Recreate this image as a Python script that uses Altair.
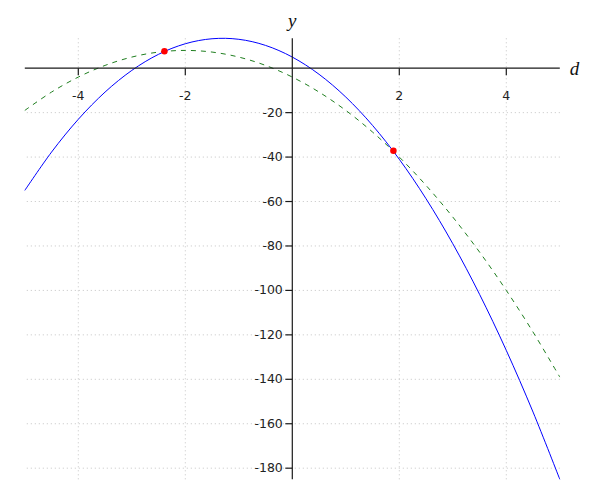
import altair as alt
import pandas as pd

xs = [-5, -4.5, -4, -3.5, -3, -2.5, -2, -1.5, -1, -0.5, 0,
      0.5, 1, 1.5, 2, 2.5, 3, 3.5, 4, 4.5, 5]
blue_y = [-55, -37.75, -23, -10.75, -1, 6.25, 11, 13.25, 13, 10.25, 5,
          -2.75, -13, -25.75, -41, -58.75, -79, -101.75, -127, -154.75, -185]
green_y = [-19, -10.75, -4, 1.25, 5, 7.25, 8, 7.25, 5, 1.25, -4,
           -10.75, -19, -28.75, -40, -52.75, -67, -82.75, -100, -118.75, -139]

# intersection points
pt_x = [-2.39, 1.89]
pt_y = [7.6, -37.2]

x_ticks = [-4, -2, 2, 4]
y_ticks = [-20, -40, -60, -80, -100, -120, -140, -160, -180]

x_min, x_max = -5, 5
y_min, y_max = -185, 13.45

blue_df = pd.DataFrame({"x": xs, "y": blue_y})
green_df = pd.DataFrame({"x": xs, "y": green_y})
pts_df = pd.DataFrame({"x": pt_x, "y": pt_y})
xt_df = pd.DataFrame({"x": x_ticks, "y": [0] * len(x_ticks), "lab": [str(v) for v in x_ticks]})
yt_df = pd.DataFrame({"y": y_ticks, "x": [0] * len(y_ticks), "lab": [str(v) for v in y_ticks]})
zero_df = pd.DataFrame({"x": [0], "y": [0]})
dlab_df = pd.DataFrame({"x": [x_max], "y": [0], "t": ["d"]})
ylab_df = pd.DataFrame({"x": [0], "y": [y_max], "t": ["y"]})

xs_scale = alt.Scale(domain=[x_min, x_max], nice=False, zero=False)
ys_scale = alt.Scale(domain=[y_min, y_max], nice=False, zero=False)

X = alt.X("x:Q", scale=xs_scale, axis=None)
Y = alt.Y("y:Q", scale=ys_scale, axis=None)

grid_col = "#c4c4c4"
axis_col = "#1a1a1a"
lab_font = "DejaVu Sans"

vgrid = alt.Chart(xt_df).mark_rule(color=grid_col, strokeDash=[1, 3], strokeWidth=1).encode(x=X)
hgrid = alt.Chart(yt_df).mark_rule(color=grid_col, strokeDash=[1, 3], strokeWidth=1).encode(y=Y)

xaxis = alt.Chart(zero_df).mark_rule(color=axis_col, strokeWidth=1.2).encode(y=Y)
yaxis = alt.Chart(zero_df).mark_rule(color=axis_col, strokeWidth=1.2).encode(x=X)

xtick_marks = alt.Chart(xt_df).mark_rule(color=axis_col, strokeWidth=1.2, y2Offset=7).encode(
    x=X, y=Y, y2="y:Q")
ytick_marks = alt.Chart(yt_df).mark_rule(color=axis_col, strokeWidth=1.2, xOffset=-7).encode(
    y=Y, x=X, x2="x:Q")

xtick_labels = alt.Chart(xt_df).mark_text(font=lab_font, fontSize=12.5, color="#222",
                                          dy=28, baseline="middle", align="center").encode(
    x=X, y=Y, text="lab:N")
ytick_labels = alt.Chart(yt_df).mark_text(font=lab_font, fontSize=12.5, color="#222",
                                          dx=-9.5, baseline="middle", align="right").encode(
    x=X, y=Y, text="lab:N")

green = alt.Chart(green_df).mark_line(color="#1e7d1e", strokeWidth=1, strokeDash=[5, 5],
                                      interpolate="cardinal").encode(x=X, y=Y)
blue = alt.Chart(blue_df).mark_line(color="#0000ff", strokeWidth=1,
                                    interpolate="cardinal").encode(x=X, y=Y)
pts = alt.Chart(pts_df).mark_circle(color="#ff0000", size=42, opacity=1).encode(x=X, y=Y)

dlabel = alt.Chart(dlab_df).mark_text(
    font="Liberation Serif", fontStyle="italic", fontSize=19, color="#111",
    align="left", baseline="middle", dx=10, dy=1).encode(x=X, y=Y, text="t:N")
ylabel = alt.Chart(ylab_df).mark_text(
    font="Liberation Serif", fontStyle="italic", fontSize=19, color="#111",
    align="center", baseline="middle", dy=-17).encode(x=X, y=Y, text="t:N")

chart = alt.layer(
    vgrid, hgrid, green, blue, xaxis, yaxis, xtick_marks, ytick_marks,
    xtick_labels, ytick_labels, pts, dlabel, ylabel
).properties(
    width=535, height=441,
    autosize=alt.AutoSizeParams(type="none"),
    padding={"left": 16.8, "top": 30.3, "right": 24, "bottom": 6},
).configure_view(stroke=None)

chart.save("out.html", embed_options={"renderer": "svg", "actions": False})
